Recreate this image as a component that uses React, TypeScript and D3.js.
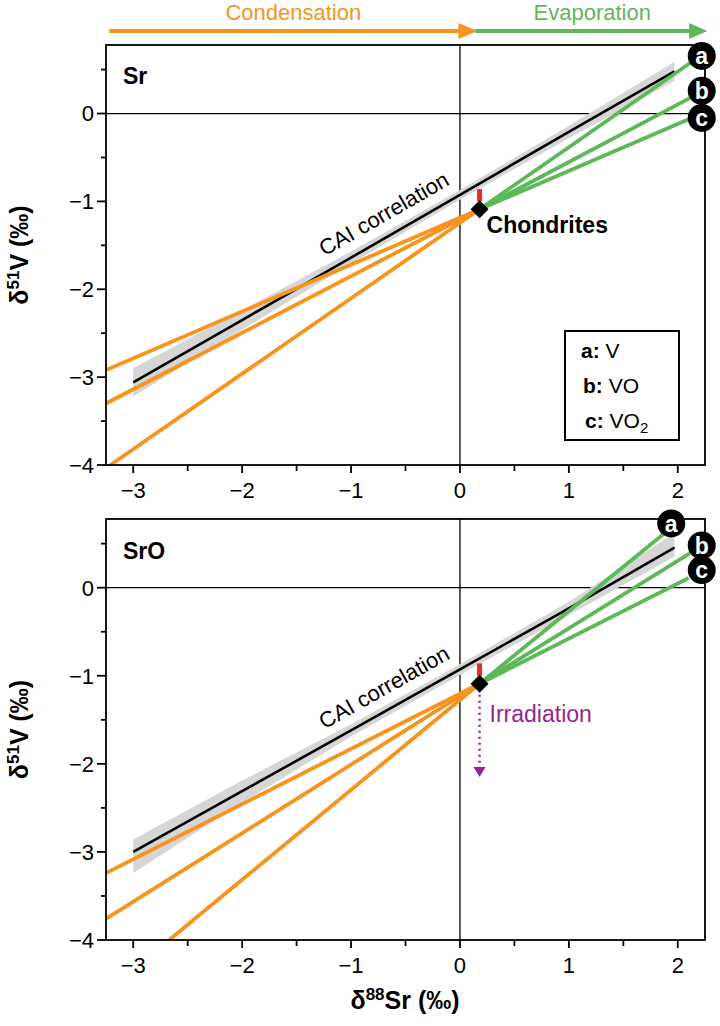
import React from "react";
import * as d3 from "d3";

const W = 720;
const H = 1026;
const FONT = "'Liberation Sans', Arial, Helvetica, sans-serif";

const xDomain = [-3.25, 2.25];
const yDomain = [-4, 0.78];
const xTicks = [-3, -2, -1, 0, 1, 2];
const xMinor = [-2.5, -1.5, -0.5, 0.5, 1.5];
const yTicks = [-4, -3, -2, -1, 0];
const yMinor = [-3.5, -2.5, -1.5, -0.5, 0.5];

// chondrite point and its error bar
const chondrite = [0.18, -1.09];
const chondriteErr = [-1.0, -0.86];
const irradiationEnd = -2.15;

// CAI regression line and confidence band
const bandX = [-3, -2, -1, 0, 1, 1.97];
const srCaiLine = [-3.06, -2.35, -1.64, -0.925, -0.21, 0.48];
const srBandHi = [-2.9, -2.24, -1.57, -0.87, -0.14, 0.59];
const srBandLo = [-3.22, -2.46, -1.71, -0.98, -0.28, 0.37];
const sroCaiLine = [-3.0, -2.31, -1.62, -0.927, -0.236, 0.455];
const sroBandHi = [-2.86, -2.19, -1.55, -0.87, -0.16, 0.62];
const sroBandLo = [-3.24, -2.44, -1.69, -0.99, -0.31, 0.35];

// evaporation (green) and condensation (orange) trajectories, end points
const srEvapEnds = [[2.13, 0.59], [2.11, 0.175], [2.11, -0.06]];
const srCondEnds = [[-3.25, -2.92], [-3.25, -3.3], [-3.21, -4]];
const sroEvapEnds = [[1.87, 0.61], [2.11, 0.39], [2.1, 0.11]];
const sroCondEnds = [[-3.25, -3.24], [-3.25, -3.76], [-2.67, -4]];

// a/b/c badges
const badgeLetters = ["a", "b", "c"];
const srBadges = [[2.22, 0.656], [2.22, 0.258], [2.22, -0.05]];
const sroBadges = [[1.94, 0.73], [2.22, 0.48], [2.22, 0.2]];

const legendKeys = ["a:", "b:", "c:"];
const legendNames = ["V", "VO", "VO"];
const legendSubs = ["", "", "2"];

const ORANGE = "#f7941d";
const GREEN = "#5db85a";
const PURPLE = "#93278f";
const RED = "#ee2a24";

const x = d3.scaleLinear().domain(xDomain).range([106, 705]);

interface PanelProps {
  name: string;
  top: number;
  bottom: number;
  cai: number[];
  hi: number[];
  lo: number[];
  evap: number[][];
  cond: number[][];
  badges: number[][];
  nameX: number;
  nameY: number;
  legend?: boolean;
  irradiation?: boolean;
  chondLabel?: boolean;
}

const fmt = (t: number) => (t < 0 ? "\u2212" + Math.abs(t) : String(t));

const Panel = (p: PanelProps) => {
  const y = d3.scaleLinear().domain(yDomain).range([p.bottom, p.top]);
  const [x0, x1] = x.range();
  const clipId = "clip-" + p.name;
  const idx = bandX.map((_, i) => i);
  const area = d3
    .area<number>()
    .x((i) => x(bandX[i]))
    .y0((i) => y(p.lo[i]))
    .y1((i) => y(p.hi[i]));
  const line = d3
    .line<number>()
    .x((i) => x(bandX[i]))
    .y((i) => y(p.cai[i]));
  const cx = x(chondrite[0]);
  const cy = y(chondrite[1]);
  // label along the CAI line
  const onLine = d3.scaleLinear().domain(bandX).range(p.cai);
  const lx = -0.6;
  const px = x(lx);
  const py = y(onLine(lx));
  const ang =
    (Math.atan2(
      y(p.cai[p.cai.length - 1]) - y(p.cai[0]),
      x(bandX[bandX.length - 1]) - x(bandX[0])
    ) *
      180) /
    Math.PI;
  const irrY = y(irradiationEnd);

  return (
    <g>
      <defs>
        <clipPath id={clipId}>
          <rect x={x0} y={p.top} width={x1 - x0} height={p.bottom - p.top} />
        </clipPath>
      </defs>
      <line x1={x0} x2={x1} y1={y(0)} y2={y(0)} stroke="#000" strokeWidth={1.3} />
      <line x1={x(0)} x2={x(0)} y1={p.top} y2={p.bottom} stroke="#000" strokeWidth={1.3} />
      <g clipPath={`url(#${clipId})`}>
        <path d={area(idx) || ""} fill="#d6d6d6" />
        <path d={line(idx) || ""} fill="none" stroke="#000" strokeWidth={2.6} />
        {p.cond.map((e, i) => (
          <line key={"c" + i} x1={cx} y1={cy} x2={x(e[0])} y2={y(e[1])} stroke={ORANGE} strokeWidth={3.8} />
        ))}
        {p.evap.map((e, i) => (
          <line key={"e" + i} x1={cx} y1={cy} x2={x(e[0])} y2={y(e[1])} stroke={GREEN} strokeWidth={3.8} />
        ))}
      </g>
      <rect x={cx - 2.5} y={y(chondriteErr[1])} width={5} height={y(chondriteErr[0]) - y(chondriteErr[1])} fill={RED} />
      <path d={`M${cx},${cy - 9}L${cx + 9},${cy}L${cx},${cy + 9}L${cx - 9},${cy}Z`} fill="#000" />
      {p.irradiation && (
        <g>
          <line x1={cx} x2={cx} y1={cy + 11} y2={irrY - 8} stroke={PURPLE} strokeWidth={2.5} strokeDasharray="2,4" />
          <path d={`M${cx - 6},${irrY - 10}L${cx + 6},${irrY - 10}L${cx},${irrY}Z`} fill={PURPLE} />
          <text x={cx + 10} y={cy + 38} fontSize={23} fill={PURPLE} fontFamily={FONT}>
            Irradiation
          </text>
        </g>
      )}
      {p.chondLabel && (
        <text x={cx + 7} y={cy + 24} fontSize={23} fontWeight="bold" fontFamily={FONT}>
          Chondrites
        </text>
      )}
      <text
        transform={`translate(${px},${py}) rotate(${ang})`}
        dy={-14}
        textAnchor="middle"
        fontSize={22}
        fontFamily={FONT}
      >
        CAI correlation
      </text>
      <text x={p.nameX} y={p.nameY} fontSize={23} fontWeight="bold" fontFamily={FONT}>
        {p.name}
      </text>
      {/* frame */}
      <rect x={x0} y={p.top} width={x1 - x0} height={p.bottom - p.top} fill="none" stroke="#000" strokeWidth={1.8} />
      {/* y axis */}
      {yTicks.map((t) => (
        <g key={"yt" + t}>
          <line x1={x0 - 9} x2={x0} y1={y(t)} y2={y(t)} stroke="#000" strokeWidth={1.8} />
          <text x={x0 - 12} y={y(t)} dy="0.36em" textAnchor="end" fontSize={22} fontFamily={FONT}>
            {fmt(t)}
          </text>
        </g>
      ))}
      {yMinor.map((t) => (
        <line key={"ym" + t} x1={x0 - 5} x2={x0} y1={y(t)} y2={y(t)} stroke="#000" strokeWidth={1.8} />
      ))}
      {/* x axis */}
      {xTicks.map((t) => (
        <g key={"xt" + t}>
          <line x1={x(t)} x2={x(t)} y1={p.bottom} y2={p.bottom + 8} stroke="#000" strokeWidth={1.8} />
          <text x={x(t)} y={p.bottom + 33} textAnchor="middle" fontSize={22} fontFamily={FONT}>
            {fmt(t)}
          </text>
        </g>
      ))}
      {xMinor.map((t) => (
        <line key={"xm" + t} x1={x(t)} x2={x(t)} y1={p.bottom} y2={p.bottom + 6} stroke="#000" strokeWidth={1.8} />
      ))}
      {/* y label */}
      <text
        transform={`translate(28,${(p.top + p.bottom) / 2}) rotate(-90)`}
        textAnchor="middle"
        fontSize={25}
        fontWeight="bold"
        fontFamily={FONT}
      >
        δ<tspan dy={-9} fontSize={17}>51</tspan>
        <tspan dy={9}>V (‰)</tspan>
      </text>
      {/* badges */}
      {p.badges.map((b, i) => (
        <g key={"b" + i} transform={`translate(${x(b[0])},${y(b[1])})`}>
          <circle r={14} fill="#000" />
          <text textAnchor="middle" dy="0.36em" fill="#fff" fontSize={23} fontWeight="bold" fontFamily={FONT}>
            {badgeLetters[i]}
          </text>
        </g>
      ))}
      {p.legend && (
        <g>
          <rect x={565} y={331} width={114} height={109} fill="#fff" stroke="#000" strokeWidth={2} />
          {legendKeys.map((k, i) => (
            <text key={k} x={581 + i * 2} y={358 + i * 35} fontSize={21} fontFamily={FONT}>
              <tspan fontWeight="bold">{k}</tspan>
              <tspan> {legendNames[i]}</tspan>
              {legendSubs[i] && (
                <tspan dy={5} fontSize={15}>
                  {legendSubs[i]}
                </tspan>
              )}
            </text>
          ))}
        </g>
      )}
    </g>
  );
};

export default function App() {
  const arrowY = 31;
  const oStart = x(-3.22);
  const oTip = x(0.16);
  const gTip = x(2.27);
  return (
    <svg width={W} height={H} style={{ position: "absolute", left: 0, top: 0, background: "#fff" }}>
      <rect width={W} height={H} fill="#fff" />
      {/* process arrows */}
      <line x1={oStart} x2={oTip - 16} y1={arrowY} y2={arrowY} stroke={ORANGE} strokeWidth={4} />
      <path d={`M${oTip - 19},${arrowY - 8}L${oTip},${arrowY}L${oTip - 19},${arrowY + 8}Z`} fill={ORANGE} />
      <line x1={oTip - 2} x2={gTip - 16} y1={arrowY} y2={arrowY} stroke={GREEN} strokeWidth={4} />
      <path d={`M${gTip - 18},${arrowY - 8}L${gTip},${arrowY}L${gTip - 18},${arrowY + 8}Z`} fill={GREEN} />
      <text x={(oStart + oTip) / 2} y={20} textAnchor="middle" fontSize={22} fill={ORANGE} fontFamily={FONT}>
        Condensation
      </text>
      <text x={(oTip + gTip) / 2} y={20} textAnchor="middle" fontSize={22} fill={GREEN} fontFamily={FONT}>
        Evaporation
      </text>
      <Panel
        name="Sr"
        top={45}
        bottom={465}
        cai={srCaiLine}
        hi={srBandHi}
        lo={srBandLo}
        evap={srEvapEnds}
        cond={srCondEnds}
        badges={srBadges}
        nameX={123}
        nameY={84}
        legend
        chondLabel
      />
      <Panel
        name="SrO"
        top={519}
        bottom={940}
        cai={sroCaiLine}
        hi={sroBandHi}
        lo={sroBandLo}
        evap={sroEvapEnds}
        cond={sroCondEnds}
        badges={sroBadges}
        nameX={123}
        nameY={559}
        irradiation
      />
      <text x={405} y={1009} textAnchor="middle" fontSize={25} fontWeight="bold" fontFamily={FONT}>
        δ<tspan dy={-9} fontSize={17}>88</tspan>
        <tspan dy={9}>Sr (‰)</tspan>
      </text>
    </svg>
  );
}
